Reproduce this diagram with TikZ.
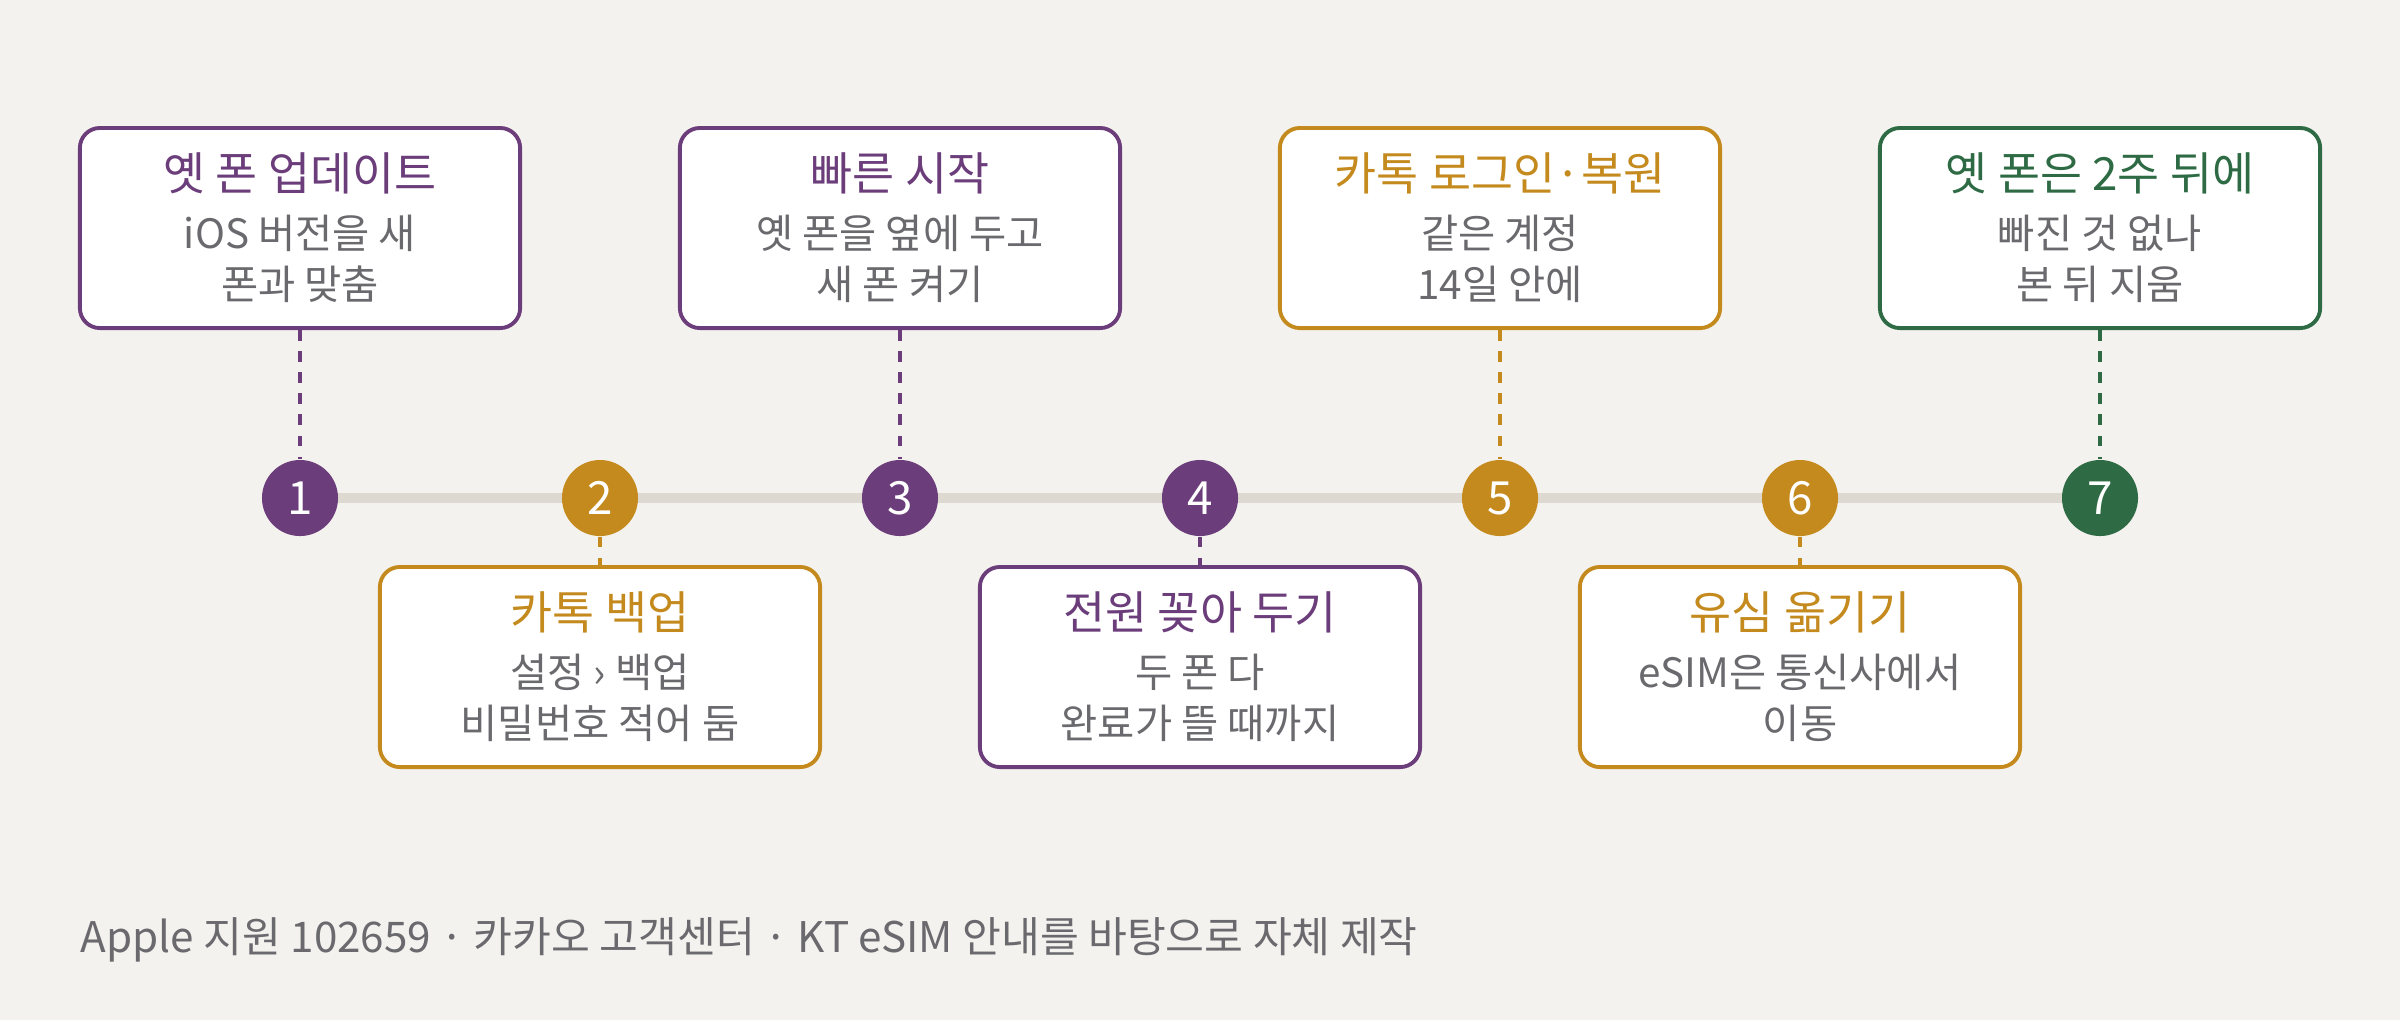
\documentclass[tikz,border=0pt]{standalone}
\usepackage{fontspec}
\setmainfont{Noto Sans CJK KR}
\usetikzlibrary{positioning}
\definecolor{bgc}{HTML}{F4F2EE}
\definecolor{plum}{HTML}{6B3D7A}
\definecolor{gold}{HTML}{C48A1E}
\definecolor{pine}{HTML}{2E6B45}
\definecolor{txt}{HTML}{6A6A6E}
\definecolor{track}{HTML}{DDD8D0}
\tikzset{
    step/.style={circle, fill=#1, minimum size=0.76cm, inner sep=0pt, text=white, font=\fontsize{13}{13}\selectfont},
    card/.style={draw=#1, line width=1.1pt, fill=white, rounded corners=0.2cm, minimum width=4.4cm, minimum height=2cm, align=center, text=txt, font=\fontsize{11.5}{14.5}\selectfont},
    tie/.style={draw=#1, dashed, line width=1.1pt, dash pattern=on 3pt off 3pt}
}
\begin{document}
\begin{tikzpicture}[x=0.01cm,y=0.01cm]
\fill[bgc] (0,0) rectangle (2400,-1020);
\useasboundingbox (0,0) rectangle (2400,-1020);
\draw[track, line width=2.6pt] (300,-498) -- (2100,-498);
\def\tmp{up}
\foreach \n/\c/\side/\head/\body in {
    1/plum/up/{옛 폰 업데이트}/{iOS 버전을 새\\폰과 맞춤},
    2/gold/down/{카톡 백업}/{설정 › 백업\\비밀번호 적어 둠},
    3/plum/up/{빠른 시작}/{옛 폰을 옆에 두고\\새 폰 켜기},
    4/plum/down/{전원 꽂아 두기}/{두 폰 다\\완료가 뜰 때까지},
    5/gold/up/{카톡 로그인·복원}/{같은 계정\\14일 안에},
    6/gold/down/{유심 옮기기}/{eSIM은 통신사에서\\이동},
    7/pine/up/{옛 폰은 2주 뒤에}/{빠진 것 없나\\본 뒤 지움}}{
    \node[step=\c] (s\n) at ({300*\n},-498) {\n};
    \ifx\side\tmp
        \node[card=\c] (b\n) at ({300*\n},-228) {{\color{\c}\fontsize{13}{16}\selectfont\head}\\[2pt]\body};
        \draw[tie=\c] (b\n.south) -- (s\n.north);
    \else
        \node[card=\c] (b\n) at ({300*\n},-667) {{\color{\c}\fontsize{13}{16}\selectfont\head}\\[2pt]\body};
        \draw[tie=\c] (s\n.south) -- (b\n.north);
    \fi
}
\node[anchor=west, inner sep=0pt, text=txt, font=\fontsize{12}{14}\selectfont] (src) at (80,-940) {Apple 지원 102659 · 카카오 고객센터 · KT eSIM 안내를 바탕으로 자체 제작};
\end{tikzpicture}
\end{document}
